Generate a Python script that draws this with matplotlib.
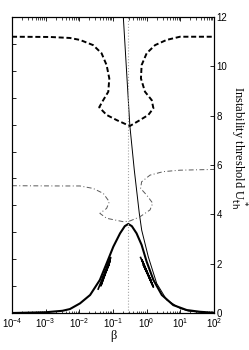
import numpy as np
import matplotlib
matplotlib.use("Agg")
import matplotlib.pyplot as plt
from matplotlib.ticker import LogLocator, NullFormatter, FixedLocator

# curves, beta given as log10 exponents
peak_logb = [-4, -3, -2.5, -2.28, -1.98, -1.68, -1.39, -1.19, -0.99, -0.79, -0.65, -0.545,
             -0.44, -0.30, -0.15, 0.0, 0.20, 0.45, 0.79, 1.19, 1.58, 2]
peak_u = [0.0, 0.03, 0.09, 0.16, 0.39, 0.73, 1.34, 2.01, 2.69, 3.23, 3.52, 3.61,
          3.52, 3.23, 2.76, 2.08, 1.34, 0.73, 0.32, 0.12, 0.05, 0.01]

thin_logb = [-0.72, -0.5, -0.368, -0.219, -0.148, 0.048, 0.298, 0.595, 0.99, 1.24, 1.6, 2]
thin_u = [12.6, 7.6, 5.8, 4.04, 3.36, 2.28, 1.2, 0.53, 0.19, 0.08, 0.03, 0.01]

spl_logb = [-1.44, -1.07, -1.36, -1.09, -1.30, -1.12]
spl_u = [0.97, 2.25, 1.10, 2.10, 1.40, 1.95]
spr_logb = [-0.18, 0.20, -0.14, 0.17, -0.10, 0.12]
spr_u = [2.25, 1.05, 2.15, 1.15, 1.95, 1.35]

dash_logb = [-4, -2.87, -2.28, -1.98, -1.59, -1.34, -1.19, -1.11, -1.14, -1.29, -1.41, -1.19,
             -0.89, -0.50, -0.20, 0.05, 0.20, 0.15, -0.05, -0.17, -0.15, 0.0, 0.25, 0.59, 0.99, 2]
dash_u = [11.2, 11.19, 11.15, 11.07, 10.86, 10.53, 10.05, 9.51, 8.97, 8.63, 8.34, 8.03,
          7.82, 7.58, 7.82, 8.03, 8.30, 8.63, 8.97, 9.51, 10.05, 10.53, 10.86, 11.07, 11.2, 11.2]

dd_logb = [-4, -2.57, -1.98, -1.59, -1.29, -1.11, -1.19, -1.39, -1.19, -0.69, -0.50, -0.20,
           0.10, 0.18, 0.0, -0.18, -0.15, 0.10, 0.49, 0.99, 2]
dd_u = [5.16, 5.15, 5.15, 5.05, 4.85, 4.51, 4.24, 4.04, 3.84, 3.70, 3.73, 3.90,
        4.18, 4.45, 4.78, 5.05, 5.32, 5.59, 5.73, 5.79, 5.82]

beta_mark = 0.285

fig = plt.figure(figsize=(2.49, 3.5), dpi=100)
ax = fig.add_axes([12/249, 1-313/350, 202/249, 296/350])

# left axis has its own unlabelled ticks
ax2 = ax.twinx()
ax2.set_ylim(0, 11)
ax2.yaxis.tick_left()
ax2.yaxis.set_major_locator(FixedLocator(range(0, 12)))
ax2.tick_params(direction="in", length=3, width=0.6, labelleft=False, labelright=False)

def b(v):
    return 10 ** np.array(v)

ax.plot(b(peak_logb), peak_u, color="k", lw=1.5)
ax.plot(b(spl_logb), spl_u, color="k", lw=1.2)
ax.plot(b(spr_logb), spr_u, color="k", lw=1.2)
ax.plot(b(thin_logb), thin_u, color="k", lw=0.7)
ax.plot(b(dash_logb), dash_u, color="k", lw=1.4, dashes=(2.6, 1.4))
ax.plot(b(dd_logb), dd_u, color="0.35", lw=0.7, dashes=(5, 2.5, 1, 2.5))
ax.plot([beta_mark, beta_mark], [0, 12], color="0.65", lw=0.8, ls=":")

ax.set_xscale("log")
ax.set_xlim(1e-4, 1e2)
ax.set_ylim(0, 12)
ax.xaxis.set_major_locator(LogLocator(base=10, numticks=10))
ax.xaxis.set_minor_locator(LogLocator(base=10, subs=np.arange(2, 10), numticks=20))
ax.xaxis.set_minor_formatter(NullFormatter())
ax.yaxis.tick_right()
ax.set_yticks([0, 2, 4, 6, 8, 10, 12])
ax.tick_params(which="both", direction="in", top=True, labelsize=7, pad=2)
ax.tick_params(axis="y", left=False, right=True, labelleft=False, labelright=True)
ax.tick_params(which="major", length=3, width=0.6)
ax.tick_params(which="minor", length=1.8, width=0.5)
for lab in ax.get_xticklabels() + ax.get_yticklabels():
    lab.set_family("Liberation Sans")

for a in (ax, ax2):
    for s in a.spines.values():
        s.set_linewidth(0.8)

ax.set_xlabel("β", family="Liberation Serif", fontsize=9, labelpad=0)
ax.yaxis.set_label_position("right")
ax.set_ylabel(r"Instability threshold U$^*_{\rm th}$", family="Liberation Serif",
              fontsize=9, rotation=270, va="center", ha="center")
ax.yaxis.set_label_coords(1.12, 0.56)

fig.savefig("out.png", dpi=100)
